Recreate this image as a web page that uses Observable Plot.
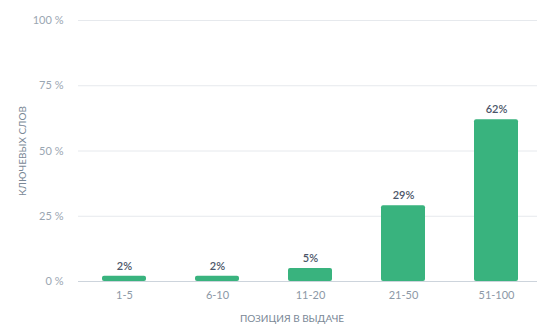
<!DOCTYPE html>
<html><head><meta charset="utf-8">
<script src="https://cdn.jsdelivr.net/npm/d3@7"></script>
<script src="https://cdn.jsdelivr.net/npm/@observablehq/plot@0.6"></script>
<style>body{margin:0;background:#fff;} svg{display:block;}</style>
</head><body><div id="chart"></div>
<script>
const categories = ["1-5", "6-10", "11-20", "21-50", "51-100"];
const values = [2, 2, 5, 29, 62];
const yTicks = [0, 25, 50, 75, 100];
const data = categories.map((c, i) => ({cat: c, v: values[i]}));
const font = "Lato, 'Open Sans', sans-serif";
const chart = Plot.plot({
  width: 537, height: 329,
  marginLeft: 78, marginRight: 0, marginTop: 20, marginBottom: 48,
  style: {fontFamily: font, background: "#fff"},
  x: {domain: categories, range: [77.5, 542.5], paddingInner: 0.527, paddingOuter: 0.2635},
  y: {domain: [0, 100]},
  marks: [
    Plot.gridY(yTicks, {stroke: "#e6e9ed", strokeOpacity: 1}),
    Plot.ruleY([0], {stroke: "#cdd4dc"}),
    Plot.axisY(yTicks, {tickSize: 0, tickPadding: 15, tickFormat: d => d + " %", fill: "#9aa6b2", fontSize: 11,
      label: "КЛЮЧЕВЫХ СЛОВ", labelAnchor: "center", labelOffset: 60, labelArrow: "none"}),
    Plot.axisX({tickSize: 0, tickPadding: 10, fill: "#8c98a6", fontSize: 11, label: null}),
    Plot.barY(data, {x: "cat", y: "v", fill: "#39b37e", rx: 2, insetBottom: 0}),
    Plot.text(data, {x: "cat", y: "v", text: d => d.v + "%", dy: -10, fill: "#4b5568", fontSize: 11, fontWeight: 600}),
    Plot.text(["ПОЗИЦИЯ В ВЫДАЧЕ"], {frameAnchor: "bottom", dx: -16, dy: 40, fill: "#7a8896", fontSize: 10})
  ]
});
document.getElementById("chart").append(chart);
// style y label
chart.querySelectorAll("text").forEach(t => {
  if (t.textContent === "КЛЮЧЕВЫХ СЛОВ") { t.setAttribute("fill", "#7a8896"); t.style.fontSize = "10px"; }
});
</script></body></html>
